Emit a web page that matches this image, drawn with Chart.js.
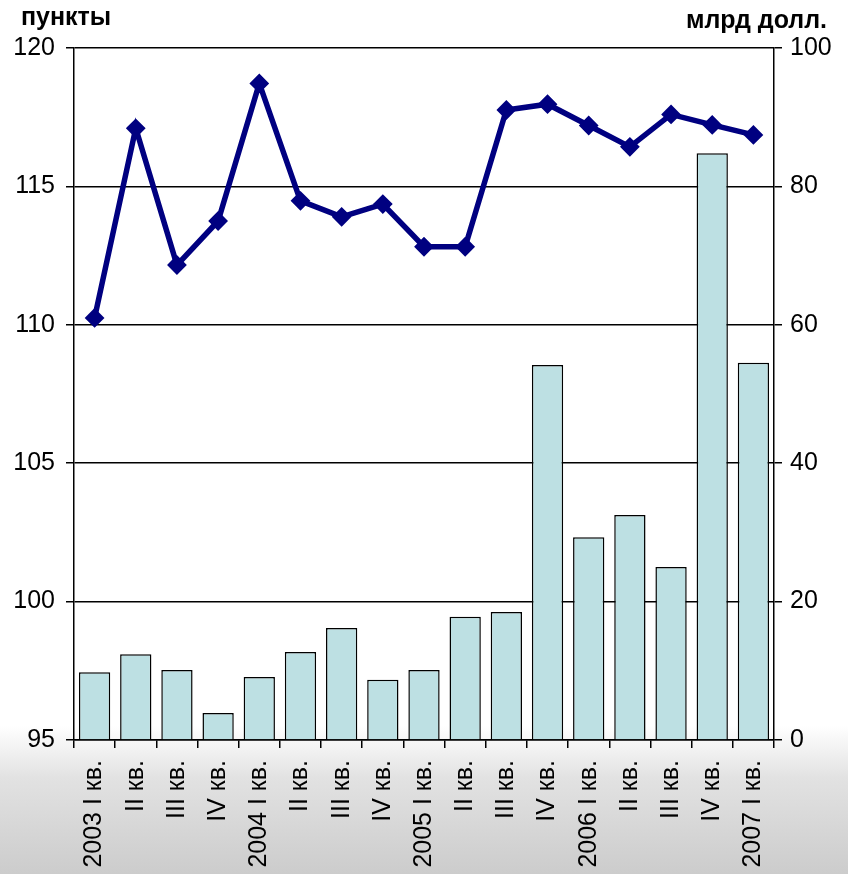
<!DOCTYPE html>
<html lang="ru">
<head>
  <meta charset="UTF-8">
  <title>Индекс и млрд долл. по кварталам</title>
  <script src="https://cdn.jsdelivr.net/npm/chart.js"></script>
  <style>
    body {
      margin: 0;
      background: linear-gradient(to bottom, #ffffff 0%, #ffffff 83%, #e2e2e2 89%, #cccccc 100%);
      font-family: "Liberation Sans", Arial, sans-serif;
    }
    .chart-container {
      position: relative;
      width: 848px;
      height: 874px;
    }
  </style>
</head>
<body>
  <div class="chart-container">
    <canvas id="quarterChart"></canvas>
  </div>

  <script>
    // quarters
    const quarters = [
      '2003 I кв.', 'II кв.', 'III кв.', 'IV кв.',
      '2004 I кв.', 'II кв.', 'III кв.', 'IV кв.',
      '2005 I кв.', 'II кв.', 'III кв.', 'IV кв.',
      '2006 I кв.', 'II кв.', 'III кв.', 'IV кв.',
      '2007 I кв.'
    ];
    // bars, right axis (млрд долл.)
    const billions = [9.8, 12.4, 10.1, 3.9, 9.1, 12.7, 16.2, 8.7, 10.1, 17.8, 18.5, 54.2, 29.3, 32.5, 25.0, 84.8, 54.5];
    // line, left axis (пункты)
    const points = [110.25, 117.1, 112.16, 113.75, 118.72, 114.48, 113.9, 114.36, 112.82, 112.82, 117.76, 117.97, 117.2, 116.43, 117.6, 117.22, 116.86];

    const leftTicks = [95, 100, 105, 110, 115, 120];
    const rightTicks = [0, 20, 40, 60, 80, 100];

    const font = '"Liberation Sans", Arial, sans-serif';

    // axis captions at the top corners
    const captionPlugin = {
      id: 'captions',
      afterDraw: (chart) => {
        const { ctx } = chart;
        ctx.save();
        ctx.fillStyle = '#000';
        ctx.font = 'bold 25px ' + font;
        ctx.textBaseline = 'alphabetic';
        ctx.textAlign = 'left';
        ctx.fillText('пункты', 21, 25);
        ctx.textAlign = 'right';
        ctx.fillText('млрд долл.', 827, 28);
        ctx.restore();
      }
    };

    const ctx = document.getElementById('quarterChart').getContext('2d');
    new Chart(ctx, {
      data: {
        labels: quarters,
        datasets: [
          {
            type: 'line',
            data: points,
            yAxisID: 'yLeft',
            borderColor: '#000080',
            backgroundColor: '#000080',
            borderWidth: 5.5,
            pointStyle: 'rectRot',
            pointRadius: 6,
            tension: 0,
            order: 0
          },
          {
            type: 'bar',
            data: billions,
            yAxisID: 'yRight',
            backgroundColor: '#bde0e3',
            borderColor: '#000000',
            borderWidth: 1.5,
            categoryPercentage: 1,
            barPercentage: 0.76,
            order: 1
          }
        ]
      },
      options: {
        responsive: true,
        maintainAspectRatio: false,
        animation: false,
        layout: { padding: { top: 48, left: 0, right: 0, bottom: 0 } },
        plugins: {
          legend: { display: false },
          tooltip: { enabled: false }
        },
        scales: {
          x: {
            offset: true,
            grid: {
              offset: true,
              drawOnChartArea: false,
              color: '#000',
              lineWidth: 1.5,
              tickLength: 8
            },
            border: { color: '#000', width: 1.5 },
            ticks: {
              autoSkip: false,
              minRotation: 90,
              maxRotation: 90,
              color: '#000',
              padding: 12,
              font: { family: font, size: 25 }
            },
            afterFit: (scale) => { scale.height = 134; }
          },
          yLeft: {
            position: 'left',
            min: 95,
            max: 120,
            afterBuildTicks: (scale) => { scale.ticks = leftTicks.map(v => ({ value: v })); },
            grid: { color: '#000', lineWidth: 1.5, tickLength: 8 },
            border: { color: '#000', width: 1.5 },
            ticks: {
              color: '#000',
              padding: 11,
              font: { family: font, size: 25 }
            },
            afterFit: (scale) => { scale.width = 74; }
          },
          yRight: {
            position: 'right',
            min: 0,
            max: 100,
            afterBuildTicks: (scale) => { scale.ticks = rightTicks.map(v => ({ value: v })); },
            grid: { drawOnChartArea: false, color: '#000', lineWidth: 1.5, tickLength: 8 },
            border: { color: '#000', width: 1.5 },
            ticks: {
              color: '#000',
              padding: 8,
              font: { family: font, size: 25 }
            },
            afterFit: (scale) => { scale.width = 74; }
          }
        }
      },
      plugins: [captionPlugin]
    });
  </script>
</body>
</html>
